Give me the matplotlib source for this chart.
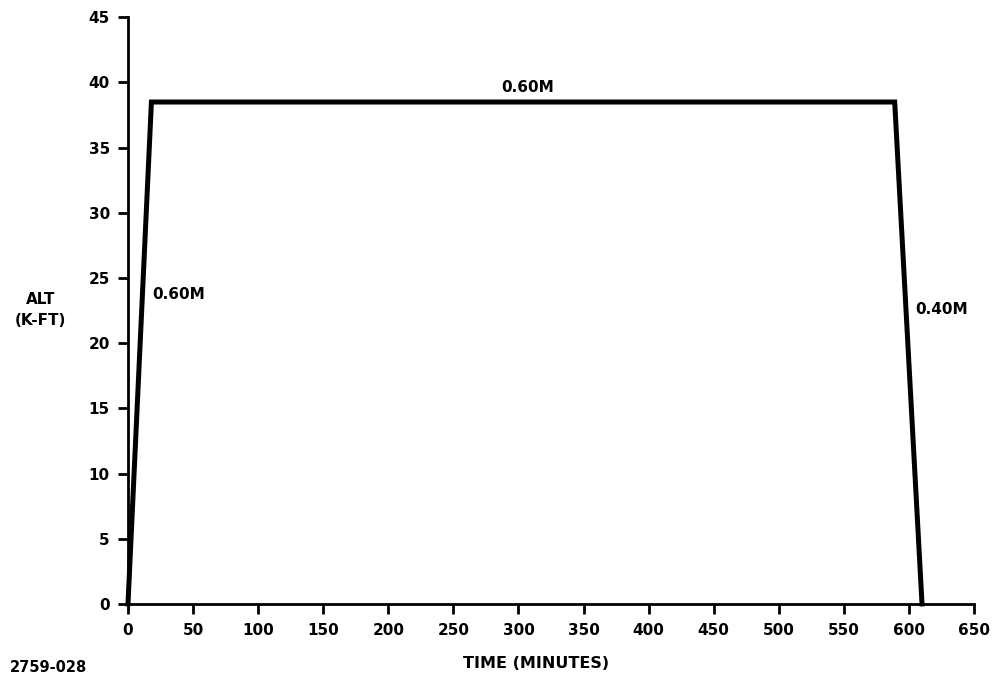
import matplotlib
matplotlib.use('Agg')
import matplotlib.pyplot as plt

# flight profile: time (min) vs altitude (k-ft)
time_min = [0, 18, 589, 610]
alt_kft = [0, 38.5, 38.5, 0]

x_ticks = list(range(0, 651, 50))
y_ticks = list(range(0, 46, 5))

plt.rcParams['font.family'] = ['DejaVu Sans']
plt.rcParams['font.weight'] = 'bold'

fig = plt.figure(figsize=(9.96, 6.91), dpi=100)
ax = fig.add_axes([0.1285, 0.126, 0.8495, 0.849])

ax.plot(time_min, alt_kft, color='black', lw=3.6, solid_joinstyle='miter', clip_on=False)

ax.set_xlim(0, 650)
ax.set_ylim(0, 45)
ax.set_xticks(x_ticks)
ax.set_yticks(y_ticks)
ax.tick_params(axis='both', direction='out', length=7, width=2, labelsize=11)
ax.tick_params(axis='x', pad=7)
ax.tick_params(axis='y', pad=6)
for lab in ax.get_xticklabels() + ax.get_yticklabels():
    lab.set_fontweight('bold')

ax.spines['top'].set_visible(False)
ax.spines['right'].set_visible(False)
ax.spines['left'].set_linewidth(2)
ax.spines['bottom'].set_linewidth(2)

ax.text(307, 39.6, '0.60M', ha='center', va='center', fontsize=11, fontweight='bold')
ax.text(19, 23.7, '0.60M', ha='left', va='center', fontsize=11, fontweight='bold')
ax.text(605, 22.6, '0.40M', ha='left', va='center', fontsize=11, fontweight='bold')

fig.text(0.041, 0.552, 'ALT\n(K-FT)', ha='center', va='center', fontsize=11, fontweight='bold', linespacing=1.5)
fig.text(0.538, 0.04, 'TIME (MINUTES)', ha='center', va='center', fontsize=11.5, fontweight='bold')
fig.text(0.01, 0.034, '2759-028', ha='left', va='center', fontsize=10.5, fontweight='bold')

plt.savefig('out.png', dpi=100)
